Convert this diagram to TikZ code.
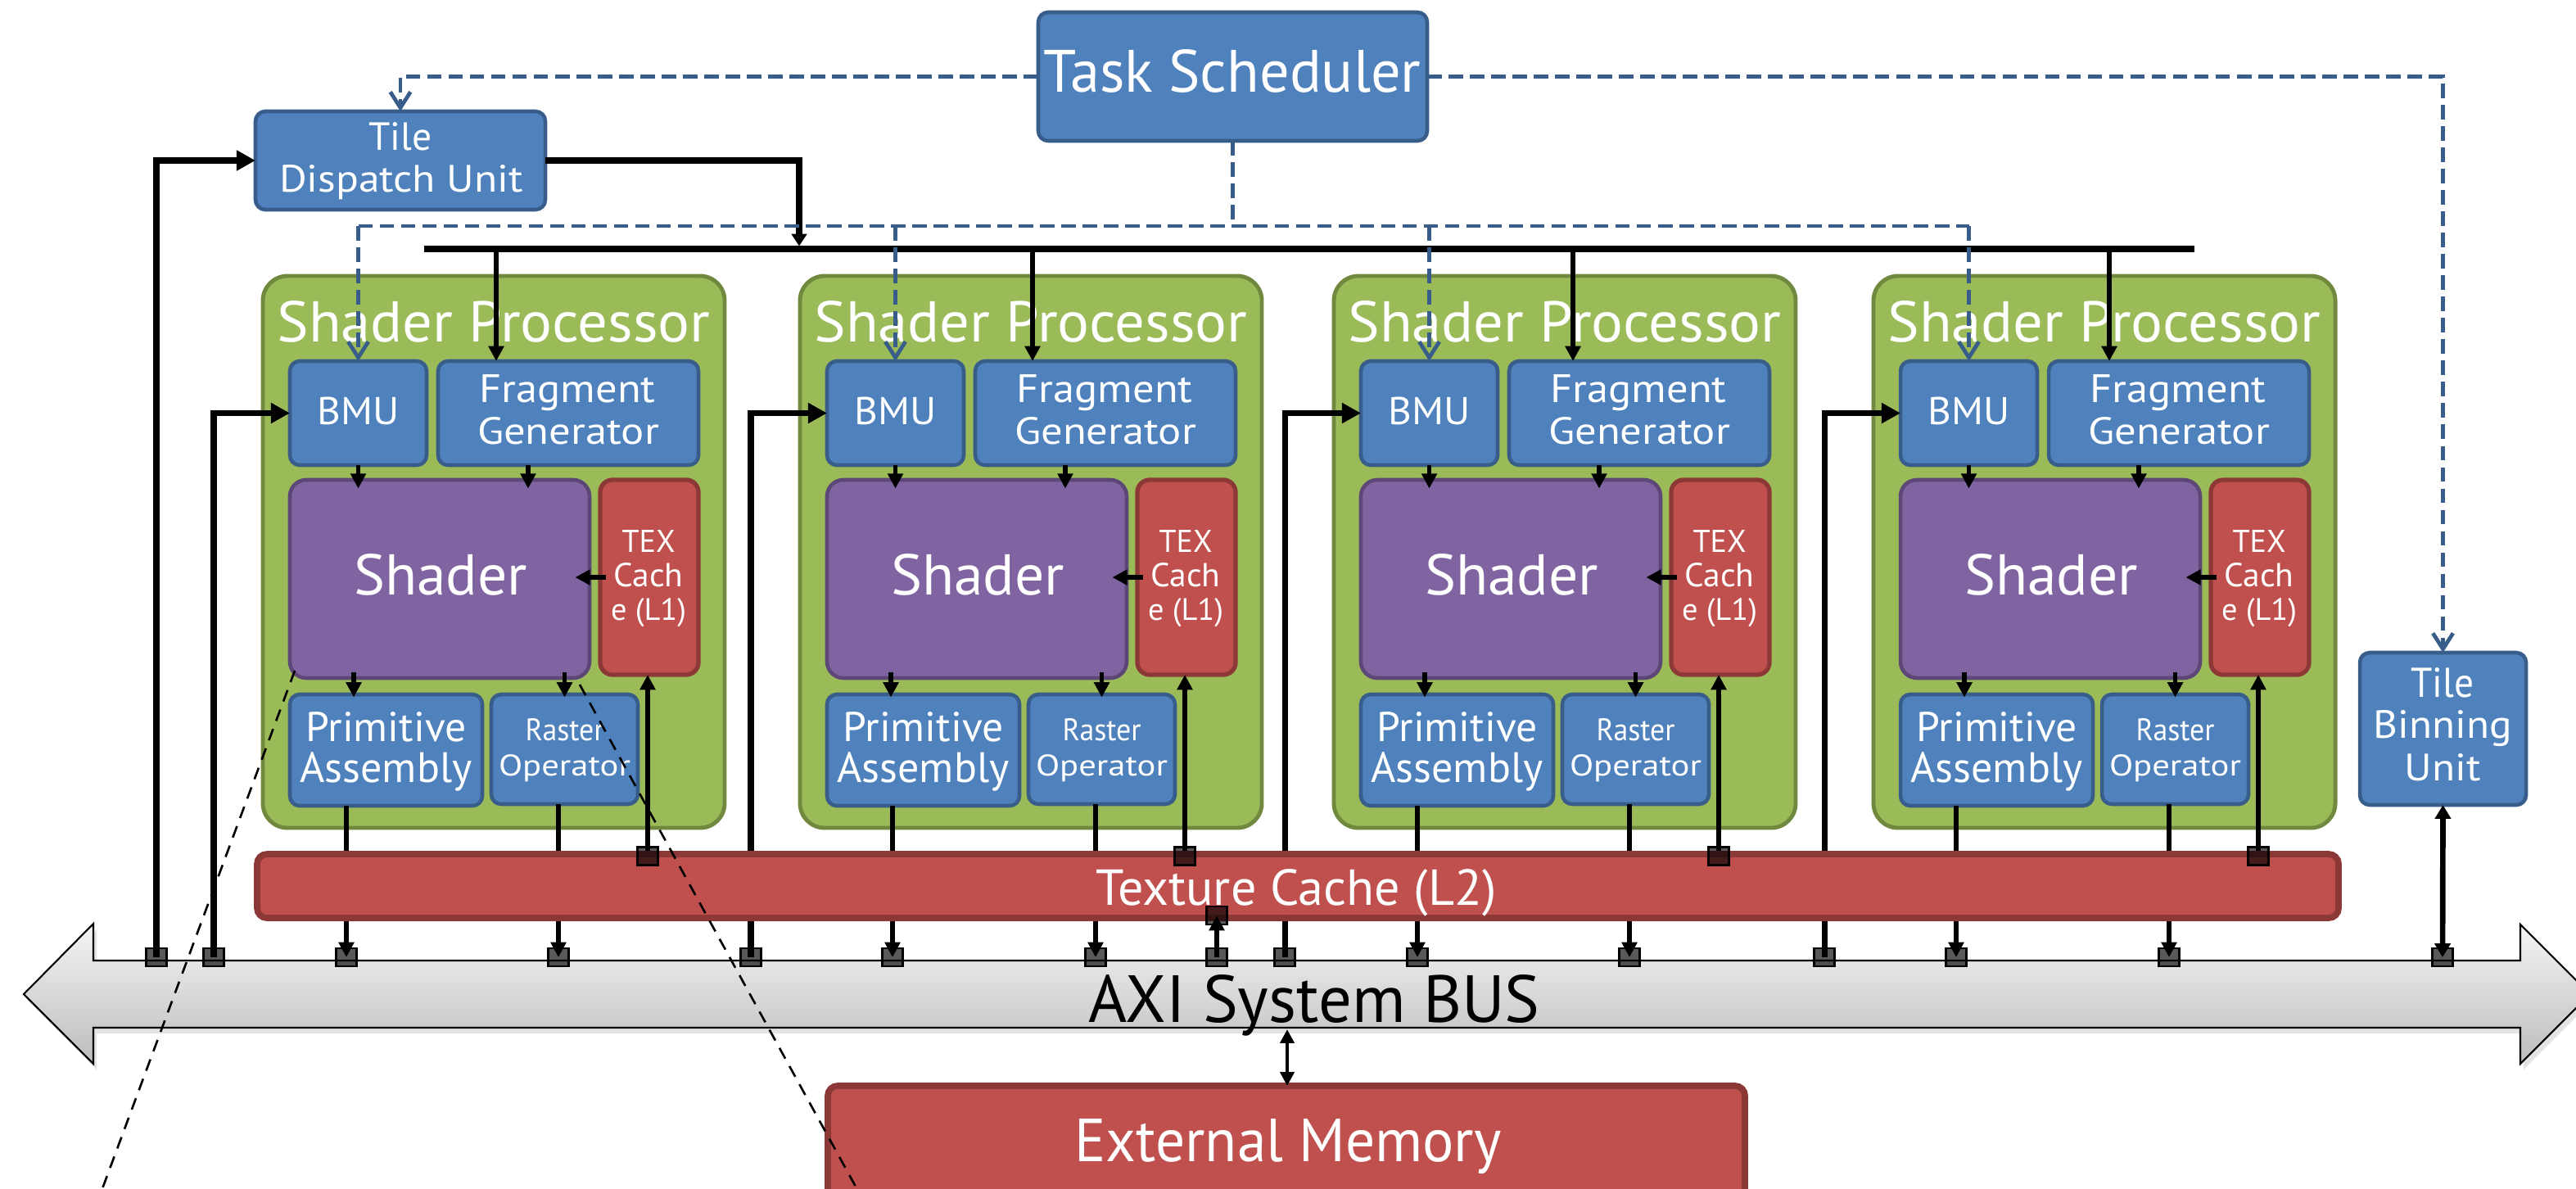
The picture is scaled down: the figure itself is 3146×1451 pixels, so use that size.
\documentclass[tikz,border=0pt]{standalone}
\usepackage{graphicx}
\usepackage{fontspec}
\setmainfont{PT Sans}
\usetikzlibrary{arrows.meta}
\pgfdeclarelayer{busl}\pgfdeclarelayer{spl}\pgfdeclarelayer{conl}\pgfdeclarelayer{l2l}\pgfdeclarelayer{topl}
\pgfsetlayers{busl,spl,conl,l2l,main,topl}
\newdimen\px \px=0.01cm
\definecolor{bfill}{HTML}{4F81BD}
\definecolor{bdraw}{HTML}{385D8A}
\definecolor{gfill}{HTML}{9BBB59}
\definecolor{gdraw}{HTML}{71893F}
\definecolor{pfill}{HTML}{8064A2}
\definecolor{pdraw}{HTML}{5C4776}
\definecolor{rfill}{HTML}{C0504D}
\definecolor{rdraw}{HTML}{8C3836}
\newcommand\bx[6]{\node[#1, minimum width={((#5)-(#3))*0.01cm}, minimum height={((#6)-(#4))*0.01cm}] (#2) at ({((#3)+(#5))/2},{((#4)+(#6))/2}) {};}
\newcommand\tx[7][white]{\node[txt,text=#1] (#2) at ({#3},{#4}) {\resizebox{#5\px}{#6\px}{#7}};}
\begin{document}
\begin{tikzpicture}[x=0.01cm, y=-0.01cm,
 txt/.style={anchor=base, inner sep=0pt, outer sep=0pt},
 blk/.style={rectangle, inner sep=0pt, outer sep=0pt},
 bluebox/.style={blk, draw=bdraw, fill=bfill, line width=1.3pt, rounded corners=0.12cm},
 greenbox/.style={blk, draw=gdraw, fill=gfill, line width=1.4pt, rounded corners=0.3cm},
 purplebox/.style={blk, draw=pdraw, fill=pfill, line width=1.3pt, rounded corners=0.2cm},
 redbox/.style={blk, draw=rdraw, fill=rfill, line width=1.5pt, rounded corners=0.15cm},
 bigred/.style={blk, draw=rdraw, fill=rfill, line width=2.2pt, rounded corners=0.12cm},
 sq/.style={blk, draw=black, line width=0.8pt, fill=black, fill opacity=0.65, minimum width=0.25cm, minimum height=0.22cm},
 thickarrow/.style={line width=2pt, -{Triangle[length=6.6pt,width=6.8pt]}},
 smallhead/.style={line width=2pt, -{Triangle[length=4.2pt,width=5.2pt]}},
 thinarrow/.style={line width=1.45pt, -{Triangle[length=5.2pt,width=5.2pt]}},
 boththin/.style={line width=1.4pt, {Triangle[length=4.8pt,width=4.8pt]}-{Triangle[length=4.8pt,width=4.8pt]}},
 boththick/.style={line width=1.9pt, {Triangle[length=4.8pt,width=5.4pt]}-{Triangle[length=4.8pt,width=5.4pt]}},
 dline/.style={draw=bdraw, line width=1.35pt, dash pattern=on 5pt off 2.4pt},
 darrow/.style={dline, -{Straight Barb[length=5.5pt,width=7pt]}},
 zoomline/.style={draw=black, line width=0.75pt, dash pattern=on 4.2pt off 3pt}
]
\useasboundingbox (0,0) rectangle (3146,1451);
\clip (0,0) rectangle (3146,1451);

% ---------- bus ----------
\begin{pgfonlayer}{busl}
 \fill[black!18, opacity=0.6, shift={(4,7)}] (29,1214) -- (114,1128) -- (114,1173) -- (3078,1173) -- (3078,1129) -- (3163,1214) -- (3078,1299) -- (3078,1255) -- (114,1255) -- (114,1299) -- cycle;
 \shade[top color=black!4, bottom color=black!26, draw=black, line width=0.6pt] (29,1214) -- (114,1128) -- (114,1173) -- (3078,1173) -- (3078,1129) -- (3163,1214) -- (3078,1299) -- (3078,1255) -- (114,1255) -- (114,1299) -- cycle;
 \tx[black]{axit}{1605}{1248}{551}{58}{AXI System BUS}
\end{pgfonlayer}

% ---------- boxes ----------
\begin{pgfonlayer}{spl}
 \bx{bluebox}{ts}{1268}{15}{1743}{172}
 \tx{tst}{1505}{112}{461}{52}{Task Scheduler}
 \bx{bluebox}{tdu}{312}{136}{666}{256}
 \tx{tdut1}{489}{183}{77}{34}{Tile}
 \tx{tdut2}{490}{234}{298}{33}{Dispatch Unit}
 \bx{bluebox}{tbu}{2882}{797}{3085}{983}
 \tx{tbut1}{2983}{851}{77}{36}{Tile}
 \tx{tbut2}{2983}{901}{169}{34}{Binning}
 \tx{tbut3}{2983}{953}{93}{33}{Unit}
 \bx{bigred}{em}{1011}{1326}{2131}{1480}
 \tx{emt}{1573}{1418}{521}{52}{External Memory}
 \foreach \i/\x in {1/321,2/977,3/1629,4/2288}{
  \bx{greenbox}{sp\i}{\x}{337}{\x+564}{1011}
  \tx{spt\i}{\x+282}{417}{529}{50}{Shader Processor}
  \bx{bluebox}{bmu\i}{\x+33}{441}{\x+200}{568}
  \tx{bmut\i}{\x+116.5}{518}{100}{33.5}{BMU}
  \bx{bluebox}{fg\i}{\x+214}{441}{\x+532}{568}
  \tx{fgta\i}{\x+372}{491}{215}{34}{Fragment}
  \tx{fgtb\i}{\x+373}{542}{222}{33}{Generator}
  \bx{purplebox}{sh\i}{\x+33}{586}{\x+399}{828}
  \tx{sht\i}{\x+217}{726}{212}{50}{Shader}
  \bx{redbox}{tex\i}{\x+412}{586}{\x+532}{824}
  \tx{texta\i}{\x+471}{674}{65}{27}{TEX}
  \tx{textb\i}{\x+471}{716}{85}{29}{Cach}
  \tx{textc\i}{\x+471}{757}{92}{27}{e (L1)}
  \bx{bluebox}{pa\i}{\x+33}{848}{\x+268}{984}
  \tx{pata\i}{\x+150.5}{905}{196}{36}{Primitive}
  \tx{patb\i}{\x+150.5}{955}{210}{37}{Assembly}
  \bx{bluebox}{ro\i}{\x+279}{848}{\x+458}{982}
  \tx{rota\i}{\x+368.5}{904}{96}{27}{Raster}
  \tx{rotb\i}{\x+368.5}{947}{161}{26}{Operator}
 }
\end{pgfonlayer}

% ---------- squares ----------
\node[sq] (bqt) at (191,1169) {};
\node[sq] (bql) at (1486,1169) {};
\node[sq] (bqn) at (2983,1169) {};
\node[sq] (lq) at (1486,1118) {};
\foreach \i/\x/\pa in {1/321/423,2/977/1090,3/1629/1731,4/2288/2389}{
 \node[sq] (bqb\i) at (\x-60,1169) {};
 \node[sq] (bqp\i) at (\pa,1169) {};
 \node[sq] (bqr\i) at (\x+361,1169) {};
 \node[sq] (tq\i) at (\x+470,1045.5) {};
}

% ---------- connectors ----------
\coordinate (barL) at (518,304);
\coordinate (barR) at (2680,304);
\coordinate (barin) at (976,304);
\coordinate (dlev) at (0,276);
\coordinate (busb) at (1572,1257);
\begin{pgfonlayer}{conl}
 \draw[thickarrow] (bqt.center) |- (tdu.west);
 \draw[smallhead, shorten >=1pt] (tdu.east) -| (barin);
 \draw[line width=2pt] (barL) -- (barR);
 \draw[darrow] (ts.west) -| (tdu.north);
 \draw[darrow] (ts.east) -| (tbu.north);
 \draw[dline] (ts.south) -- (ts.south |- dlev);
 \draw[dline] (bmu1.north |- dlev) -- (bmu4.north |- dlev);
 \draw[boththick] (bqn.center) -- (tbu.south);
 \draw[boththin] (busb) -- (busb |- em.north);
 \foreach \i/\x/\fg in {1/321/606,2/977/1261,3/1629/1921,4/2288/2576}{
  \coordinate (fgc\i) at (\fg,304);
  \coordinate (xb\i) at (\x+324,0);
  \coordinate (xc\i) at (\x+111,0);
  \draw[darrow] (bmu\i.north |- dlev) -- (bmu\i.north);
  \draw[thinarrow] (fgc\i) -- (fgc\i |- fg\i.north);
  \draw[thickarrow] (bqb\i.center) |- (bmu\i.west);
  \draw[thinarrow, shorten >=-3pt] (bmu\i.south) -- (bmu\i.south |- sh\i.north);
  \draw[thinarrow, shorten >=-3pt] (fg\i.south -| xb\i) -- (sh\i.north -| xb\i);
  \draw[thinarrow, shorten <=-2pt, shorten >=-1pt] (sh\i.south -| xc\i) -- (pa\i.north -| xc\i);
  \draw[thinarrow, shorten <=-2pt, shorten >=-1pt] (sh\i.south -| ro\i.north) -- (ro\i.north);
  \draw[thinarrow, shorten <=-2pt, shorten >=-5pt] (tex\i.west) -- (sh\i.east |- tex\i.west);
  \draw[thinarrow] (bqp\i |- pa\i.south) -- (bqp\i.center);
  \draw[thinarrow] (bqr\i |- ro\i.south) -- (bqr\i.center);
  \draw[thinarrow] (tq\i.center) -- (tq\i |- tex\i.south);
 }
\end{pgfonlayer}

% ---------- L2 ----------
\begin{pgfonlayer}{l2l}
 \bx{bigred}{l2}{314}{1043}{2856}{1121}
 \tx{l2t}{1583}{1105}{489}{44}{Texture Cache (L2)}
 \draw[thinarrow] (bql.center) -- (lq.center);
\end{pgfonlayer}

% ---------- zoom lines ----------
\coordinate (zl) at (107,1500);
\coordinate (zr) at (1073,1500);
\begin{pgfonlayer}{topl}
 \draw[zoomline] ([shift={(6,-9)}]sh1.south west) -- (zl);
 \draw[zoomline] ([shift={(-12,8)}]sh1.south east) -- (zr);
\end{pgfonlayer}
\end{tikzpicture}
\end{document}
